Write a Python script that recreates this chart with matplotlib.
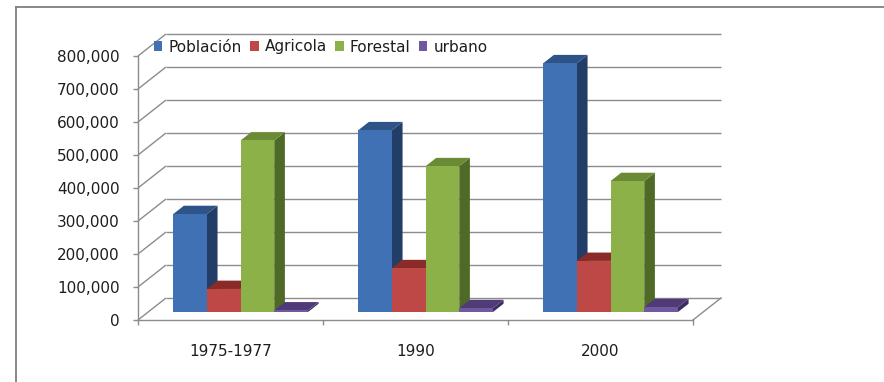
import matplotlib
matplotlib.use("Agg")
import matplotlib.pyplot as plt
from matplotlib.patches import Polygon, Patch
from matplotlib.lines import Line2D

# ---- data -------------------------------------------------------------
categories = ["1975-1977", "1990", "2000"]
series_names = ["Población", "Agricola", "Forestal", "urbano"]
poblacion = [297000, 551000, 754000]
agricola = [70000, 133000, 155000]
forestal = [520000, 442000, 397000]
urbano = [5000, 12000, 15000]
y_ticks = [0, 100000, 200000, 300000, 400000, 500000, 600000, 700000, 800000]

series_values = [poblacion, agricola, forestal, urbano]

# ---- styling ----------------------------------------------------------
front_colors = ["#3F71B4", "#BD4845", "#8DB149", "#7159A0"]
top_colors = ["#2D5387", "#8A2B29", "#6A8A35", "#4F3B78"]
side_colors = ["#223E66", "#7A2624", "#4E6A26", "#3D2D60"]
grid_color = "#8C8C8C"
text_color = "#1E1E1E"
FONT = "DejaVu Sans"
FS = 11

W, H = 884, 382
fig = plt.figure(figsize=(W / 100, H / 100), dpi=100)
fig.patch.set_facecolor("white")

# pixel geometry of the chart box
x0_px, y0_px = 138, 320          # front-left floor corner
cat_px = 185                     # width of one category
val_px = 33                      # pixels per 100,000
dep_px = (28, 22)                # depth offset of the back wall

ax = fig.add_axes([x0_px / W, (H - y0_px) / H,
                   (3 * cat_px + dep_px[0]) / W,
                   (8 * val_px + dep_px[1]) / H])
DX = dep_px[0] / cat_px
DY = dep_px[1] / val_px * 100000
ymax = y_ticks[-1]
ax.set_xlim(-0.5, len(categories) - 0.5 + DX)
ax.set_ylim(0, ymax + DY)
ax.set_facecolor("none")

# side wall diagonals and back wall gridlines
xl_front = -0.5
xr_front = len(categories) - 0.5
for v in y_ticks:
    ax.plot([xl_front, xl_front + DX], [v, v + DY], color=grid_color,
            lw=1.0, zorder=1, clip_on=False, solid_capstyle="butt")
    ax.plot([xl_front + DX, xr_front + DX], [v + DY, v + DY], color=grid_color,
            lw=1.0, zorder=1, clip_on=False, solid_capstyle="butt")
# right edge of the floor
ax.plot([xr_front, xr_front + DX], [0, DY], color=grid_color, lw=1.0,
        zorder=1, clip_on=False)

# spines
for s in ["top", "right"]:
    ax.spines[s].set_visible(False)
ax.spines["left"].set_bounds(0, ymax)
ax.spines["bottom"].set_bounds(xl_front, xr_front)
for s in ["left", "bottom"]:
    ax.spines[s].set_color(grid_color)
    ax.spines[s].set_linewidth(1.0)
    ax.spines[s].set_zorder(2)

ax.set_yticks(y_ticks)
ax.set_yticklabels([f"{v:,}" for v in y_ticks], fontsize=FS, family=FONT,
                   color=text_color)
ax.tick_params(axis="y", direction="out", length=3.6, width=1.0,
               color=grid_color, pad=9.5)

ax.set_xticks(range(len(categories)))
ax.set_xticklabels(categories, fontsize=FS, family=FONT, color=text_color)
ax.set_xticks([i - 0.5 for i in range(len(categories) + 1)], minor=True)
ax.tick_params(axis="x", which="major", length=0, pad=17)
ax.tick_params(axis="x", which="minor", direction="out", length=3.6,
               width=1.0, color=grid_color)

# 3D-style columns
w = 0.182
f0, f1 = 0.36, 0.74
ddx = (f1 - f0) * DX
ddy = (f1 - f0) * DY
z = 3
for c in range(len(categories)):
    for s, vals in enumerate(series_values):
        v = vals[c]
        xl = c - 2 * w + s * w + f0 * DX
        xr = xl + w
        yb = f0 * DY
        yt = yb + v
        side = Polygon([(xr, yb), (xr + ddx, yb + ddy), (xr + ddx, yt + ddy),
                        (xr, yt)], closed=True, facecolor=side_colors[s],
                       edgecolor="none", zorder=z)
        top = Polygon([(xl, yt), (xr, yt), (xr + ddx, yt + ddy),
                       (xl + ddx, yt + ddy)], closed=True,
                      facecolor=top_colors[s], edgecolor="none", zorder=z + 1)
        ax.add_patch(side)
        ax.add_patch(top)
        ax.bar(xl, v, width=w, bottom=yb, align="edge",
               color=front_colors[s], edgecolor="none", zorder=z + 2)
        z += 3

# legend
handles = [Patch(facecolor=col, edgecolor="none") for col in front_colors]
fig.legend(handles, series_names, loc="center left",
           bbox_to_anchor=(154 / W, 1 - 47 / H), ncol=4, frameon=False,
           handlelength=0.55, handleheight=0.55, handletextpad=0.4,
           columnspacing=0.55, borderpad=0, borderaxespad=0,
           prop={"family": FONT, "size": FS}, labelcolor=text_color)

# chart area border (top and left edges)
fig.add_artist(Line2D([16 / W, 16 / W], [0, 1 - 7 / H], color="#7F7F7F",
                      lw=1.3, transform=fig.transFigure))
fig.add_artist(Line2D([16 / W, 1], [1 - 7 / H, 1 - 7 / H], color="#7F7F7F",
                      lw=1.3, transform=fig.transFigure))

fig.savefig("out.png", dpi=100)
